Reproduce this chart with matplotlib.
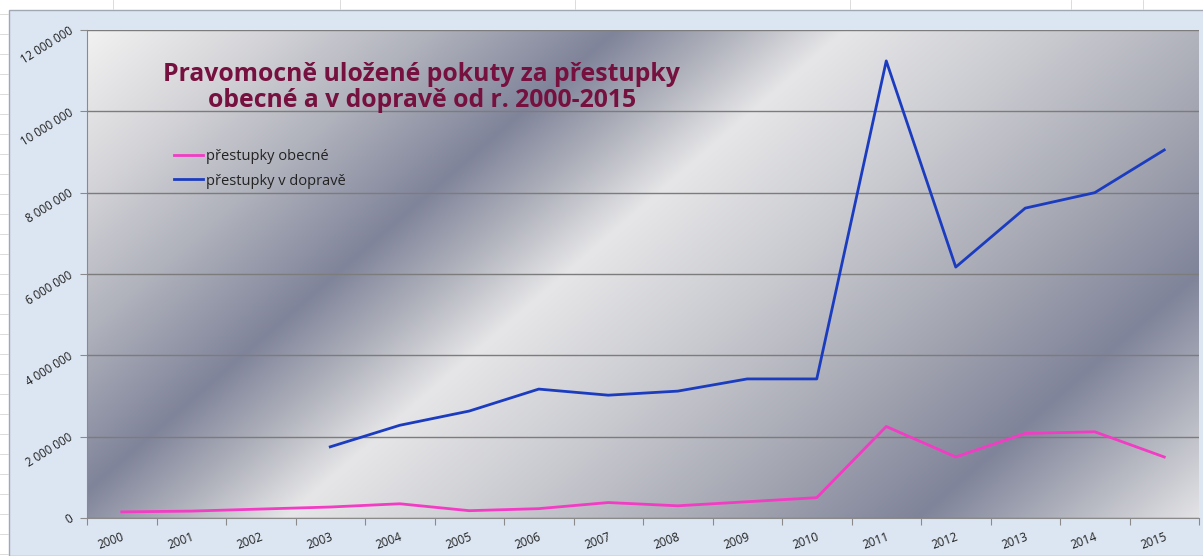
"""
Pravomocně uložené pokuty - Excel-style line chart with metallic plot background.
"""
import matplotlib
matplotlib.use("Agg")
import matplotlib.pyplot as plt
import numpy as np
from matplotlib.patches import Rectangle
from matplotlib.lines import Line2D

YEARS = [str(y) for y in range(2000, 2016)]
OBECNE = [150_000, 170_000, 220_000, 270_000, 350_000, 180_000, 230_000, 380_000,
          300_000, 400_000, 500_000, 2_250_000, 1_500_000, 2_080_000, 2_120_000, 1_500_000]
DOPRAVA = [np.nan, np.nan, np.nan, 1_750_000, 2_280_000, 2_630_000, 3_170_000, 3_020_000,
           3_120_000, 3_420_000, 3_420_000, 11_240_000, 6_170_000, 7_620_000, 8_000_000, 9_050_000]
Y_TICKS = [0, 2_000_000, 4_000_000, 6_000_000, 8_000_000, 10_000_000, 12_000_000]

TITLE = "Pravomocně uložené pokuty za přestupky\nobecné a v dopravě od r. 2000-2015"
PINK = "#f23cc4"
BLUE = "#1c3cc0"
MAROON = "#76103e"
CHART_BG = "#dce6f2"
FONT = "Open Sans"

W, H = 1203, 556
fig = plt.figure(figsize=(W / 100, H / 100), dpi=100)
fig.patch.set_facecolor("white")

# spreadsheet cell lines peeking out around the chart object
for yy in range(14, H, 20):
    fig.add_artist(Line2D([0, 8 / W], [1 - yy / H] * 2, color="#d6d6d6", lw=0.6))
for xx in [113, 340, 575, 850, 1071, 1143]:
    fig.add_artist(Line2D([xx / W] * 2, [1, 1 - 9 / H], color="#d6d6d6", lw=0.6))

# chart area
fig.add_artist(Rectangle((9 / W, 0), 1, 1 - 10 / H, transform=fig.transFigure,
                         facecolor=CHART_BG, edgecolor="#a0a8b4", lw=1, zorder=0))

ax = fig.add_axes([87 / W, 38 / H, 1112 / W, 488 / H])
ax.set_facecolor("none")

# diagonal metallic gradient (Excel preset look), bands run lower-left -> upper-right
gx, gy = np.meshgrid(np.arange(1112), np.arange(488))
t = 0.87 * gx + gy
stops = [0, 150, 300, 460, 560, 660, 850, 1050, 1210, 1340, 1460]
cols = ["#f2f2f2", "#d6d6da", "#b0b2bc", "#80849a", "#b0b2bc", "#e6e6e8",
        "#c8c9cf", "#a2a4b0", "#80849a", "#b4b6c0", "#e6e6e8"]
rgb = np.array([matplotlib.colors.to_rgb(c) for c in cols])
img = np.dstack([np.interp(t, stops, rgb[:, k]) for k in range(3)])
ax.imshow(img, extent=[0, 16, 0, 12_000_000], aspect="auto", origin="upper", zorder=0)

x = np.arange(len(YEARS)) + 0.5
ax.plot(x, OBECNE, color=PINK, lw=2, label="přestupky obecné", zorder=3)
ax.plot(x, DOPRAVA, color=BLUE, lw=2, label="přestupky v dopravě", zorder=3)

ax.set_xlim(0, 16)
ax.set_ylim(0, 12_000_000)
ax.set_yticks(Y_TICKS)
ax.set_yticklabels([f"{v:,}".replace(",", " ") for v in Y_TICKS],
                   rotation=32, rotation_mode="anchor", ha="right", va="center",
                   fontsize=8.3, color="#1e1e1e", family=FONT)
ax.set_xticks(np.arange(17))
ax.set_xticklabels([])
ax.set_xticks(x, minor=True)
ax.set_xticklabels(YEARS, minor=True, rotation=20, rotation_mode="anchor",
                   ha="right", va="top", fontsize=8.5, color="#1e1e1e", family=FONT)
ax.tick_params(axis="x", which="major", length=5, color="#8a8a8a", direction="out")
ax.tick_params(axis="x", which="minor", length=0, pad=9)
ax.tick_params(axis="y", length=5, color="#8a8a8a", pad=6)
ax.grid(axis="y", color="#7c7c7c", lw=1)
ax.set_axisbelow(False)
for sp in ["top", "right"]:
    ax.spines[sp].set_visible(False)
for sp in ["left", "bottom"]:
    ax.spines[sp].set_color("#8a8a8a")

ax.text(0.301, 0.842, TITLE, transform=ax.transAxes, ha="center", va="baseline",
        fontsize=17.8, fontweight="bold", color=MAROON, family=FONT,
        linespacing=1.04, zorder=4)

leg = ax.legend(loc="upper left", bbox_to_anchor=(0.0665, 0.783), frameon=False,
                handlelength=2.0, handletextpad=0.2, labelspacing=0.65,
                prop={"family": FONT, "size": 10.5})
for txt in leg.get_texts():
    txt.set_color("#222222")

fig.savefig("out.png", dpi=100)
